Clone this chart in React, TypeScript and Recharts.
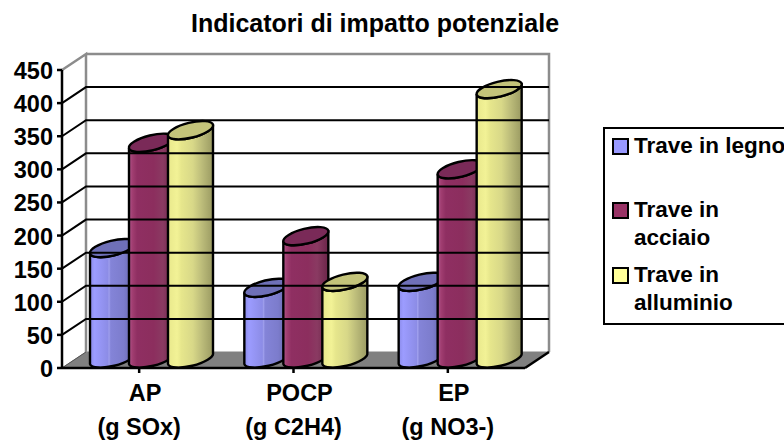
import React from "react";
import { BarChart, Bar, XAxis, YAxis, Legend, ReferenceLine, ReferenceArea } from "recharts";

const categories = ["AP", "POCP", "EP"];
const categorySubs = ["(g SOx)", "(g C2H4)", "(g NO3-)"];
const legno = [169, 109, 118];
const acciaio = [328, 187, 288];
const alluminio = [347, 118, 409];
const yTicks = [0, 50, 100, 150, 200, 250, 300, 350, 400, 450];
const legendLines = [["Trave in legno"], ["Trave in", "acciaio"], ["Trave in", "alluminio"]];

const data = categories.map((c, i) => ({
  name: c,
  sub: categorySubs[i],
  legno: legno[i],
  acciaio: acciaio[i],
  alluminio: alluminio[i],
}));

const FONT = "'Liberation Sans', Arial, sans-serif";
const DX = 24;
const DY = 16;

const Cylinder = (props: any) => {
  const { x, y, width, height, grad, top } = props;
  const xx = x + 9;
  const w = width + 6;
  const yTop = y - 8;
  const yBase = y + height - 9.5;
  const d = 5.5;
  const rx = Math.sqrt((w / 2) * (w / 2) + d * d);
  const ry = 7.5;
  const rot = (-Math.atan(d / (w / 2)) * 180) / Math.PI;
  const body = `M${xx},${yTop + d} L${xx},${yBase + d} A${rx},${ry} ${rot} 0 0 ${xx + w},${yBase - d} L${xx + w},${yTop - d} A${rx},${ry} ${rot} 0 1 ${xx},${yTop + d} Z`;
  const cap = `M${xx},${yTop + d} A${rx},${ry} ${rot} 0 1 ${xx + w},${yTop - d} A${rx},${ry} ${rot} 0 1 ${xx},${yTop + d} Z`;
  return (
    <g>
      <path d={body} fill={`url(#${grad})`} stroke="#000" strokeWidth={2.4} strokeLinejoin="round" />
      <path d={cap} fill={top} stroke="#000" strokeWidth={2.4} strokeLinejoin="round" />
    </g>
  );
};

const Walls = (props: any) => {
  const { x, y, width, height } = props;
  const bottom = y + height;
  const right = x + width;
  return (
    <g>
      <polygon
        points={`${x},${bottom} ${x + DX},${bottom - DY} ${right + DX},${bottom - DY} ${right},${bottom}`}
        fill="#808080"
        stroke="#808080"
      />
      <path
        d={`M${x},${y} L${x + DX},${y - DY} L${x + DX},${bottom - DY}`}
        fill="none"
        stroke="#8c8c8c"
        strokeWidth={2.5}
      />
      <path
        d={`M${x + DX},${y - DY} L${right + DX},${y - DY} L${right + DX},${bottom - DY}`}
        fill="none"
        stroke="#8c8c8c"
        strokeWidth={2.5}
      />
      <line x1={right} y1={bottom} x2={right + DX} y2={bottom - DY} stroke="#000" strokeWidth={2.4} />
      <line x1={x} y1={bottom} x2={x + DX} y2={bottom - DY} stroke="#555" strokeWidth={1} />
    </g>
  );
};

const WallLine = (props: any) => {
  const { x1, x2, y1 } = props;
  return (
    <path
      d={`M${x1},${y1} L${x1 + DX},${y1 - DY} L${x2 + DX},${y1 - DY}`}
      fill="none"
      stroke="#000"
      strokeWidth={2}
    />
  );
};

const XTick = (props: any) => {
  const { x, y, index } = props;
  return (
    <g fontFamily={FONT} fontWeight="bold" fontSize={23.5} fill="#000" textAnchor="middle">
      <text x={x + 6} y={y + 26}>{categories[index]}</text>
      <text x={x} y={y + 60}>{categorySubs[index]}</text>
    </g>
  );
};

const YTick = (props: any) => {
  const { x, y, payload } = props;
  return (
    <text x={x} y={y + 9} textAnchor="end" fontFamily={FONT} fontWeight="bold" fontSize={23.5} fill="#000">
      {payload.value}
    </text>
  );
};

const LegendBox = (props: any) => {
  const { payload } = props;
  return (
    <div
      style={{
        position: "relative",
        width: 240,
        height: 198,
        border: "2.5px solid #000",
        boxSizing: "border-box",
        background: "#fff",
        fontFamily: FONT,
        fontWeight: "bold",
        fontSize: 22.5,
        lineHeight: "28px",
        color: "#000",
      }}
    >
      {(payload || []).map((p: any, i: number) => (
        <div key={i} style={{ position: "absolute", left: 0, top: [3, 67, 132][i], whiteSpace: "nowrap" }}>
          <span
            style={{
              position: "absolute",
              left: 7,
              top: 6,
              width: 13,
              height: 13,
              border: "2px solid #000",
              background: p.color,
            }}
          />
          <div style={{ marginLeft: 29 }}>
            {legendLines[i].map((l, j) => (
              <div key={j}>{l}</div>
            ))}
          </div>
        </div>
      ))}
    </div>
  );
};

const Stops = ({ c }: { c: [number, string][] }) => (
  <>
    {c.map(([o, col], i) => (
      <stop key={i} offset={o} stopColor={col} />
    ))}
  </>
);

export default function App() {
  return (
    <div style={{ position: "absolute", left: 0, top: 0, width: 784, height: 441, overflow: "hidden", background: "#fff" }}>
      <div
        style={{
          position: "absolute",
          left: 130,
          top: 9,
          width: 490,
          textAlign: "center",
          whiteSpace: "nowrap",
          fontFamily: FONT,
          fontWeight: "bold",
          fontSize: 25,
          lineHeight: "28px",
        }}
      >
        Indicatori di impatto potenziale
      </div>
      <BarChart
        width={784}
        height={441}
        data={data}
        margin={{ top: 70, right: 259, bottom: 0, left: 0 }}
        barGap={0}
        barSize={39}
      >
        <defs>
          <linearGradient id="gBlue" x1="0" x2="1" y1="0" y2="0">
            <Stops c={[[0, "#8a8ae8"], [0.1, "#9c9cff"], [0.4, "#8c8ce6"], [0.42, "#a0a0ee"], [0.46, "#8484d8"], [0.75, "#7c7ccc"], [1, "#6262a4"]]} />
          </linearGradient>
          <linearGradient id="gRed" x1="0" x2="1" y1="0" y2="0">
            <Stops c={[[0, "#b0558c"], [0.08, "#a03d70"], [0.18, "#8f2f62"], [0.55, "#8c2e5e"], [0.75, "#8a3a62"], [1, "#6a2548"]]} />
          </linearGradient>
          <linearGradient id="gYellow" x1="0" x2="1" y1="0" y2="0">
            <Stops c={[[0, "#e8e88c"], [0.2, "#f2f296"], [0.3, "#e6e68c"], [0.55, "#d8d888"], [0.75, "#bcbc7a"], [1, "#9a9a62"]]} />
          </linearGradient>
        </defs>
        <ReferenceArea y1={0} y2={450} shape={<Walls />} ifOverflow="visible" fill="none" />
        {yTicks.slice(1, -1).map((v) => (
          <ReferenceLine key={v} y={v} shape={<WallLine />} ifOverflow="visible" />
        ))}
        <XAxis
          dataKey="name"
          height={73}
          axisLine={{ stroke: "#000", strokeWidth: 2.5 }}
          tickLine={{ stroke: "#000", strokeWidth: 2.5 }}
          tickSize={5}
          tick={<XTick />}
          interval={0}
        />
        <YAxis
          width={62}
          domain={[0, 450]}
          ticks={yTicks}
          interval={0}
          axisLine={{ stroke: "#000", strokeWidth: 2.5 }}
          tickLine={{ stroke: "#000", strokeWidth: 2.5 }}
          tickSize={5}
          tickMargin={4}
          tick={<YTick />}
        />
        <Legend
          content={<LegendBox />}
          layout="vertical"
          align="center"
          verticalAlign="middle"
          itemSorter={null}
          wrapperStyle={{ position: "absolute", left: 603, top: 127, width: 240, height: 198 }}
        />
        <Bar dataKey="legno" name="Trave in legno" fill="#9999ff" isAnimationActive={false} shape={<Cylinder grad="gBlue" top="#6f70b8" />} />
        <Bar dataKey="acciaio" name="Trave in acciaio" fill="#993366" isAnimationActive={false} shape={<Cylinder grad="gRed" top="#7a2a58" />} />
        <Bar dataKey="alluminio" name="Trave in alluminio" fill="#ffff99" isAnimationActive={false} shape={<Cylinder grad="gYellow" top="#c4c47a" />} />
      </BarChart>
    </div>
  );
}
